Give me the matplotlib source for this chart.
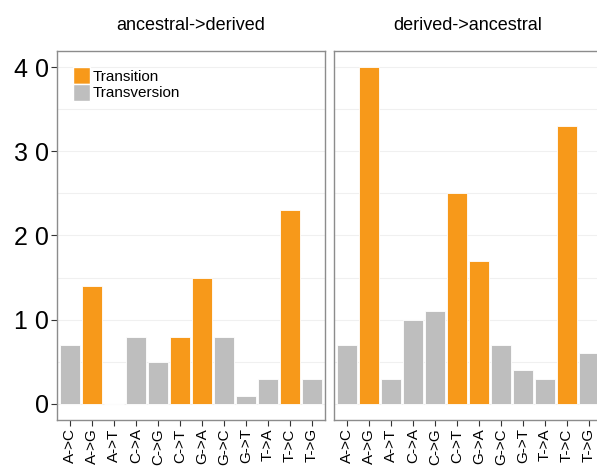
import numpy as np
import matplotlib
matplotlib.use('Agg')
import matplotlib.pyplot as plt
from matplotlib.patches import Patch
from matplotlib import font_manager

# ---- data ----
mutations = ['A->C', 'A->G', 'A->T', 'C->A', 'C->G', 'C->T',
             'G->A', 'G->C', 'G->T', 'T->A', 'T->C', 'T->G']
is_transition = [False, True, False, False, False, True,
                 True, False, False, False, True, False]
anc_to_der = [7, 14, 0, 8, 5, 8, 15, 8, 1, 3, 23, 3]
der_to_anc = [7, 40, 3, 10, 11, 25, 17, 7, 4, 3, 33, 6]
panel_titles = ['ancestral->derived', 'derived->ancestral']
yticks = [0, 10, 20, 30, 40]

ORANGE = '#F7991A'
GREY = '#BEBEBE'
FRAME = '#8C8C8C'

names = {f.name for f in font_manager.fontManager.ttflist}
narrow = 'Liberation Sans Narrow' if 'Liberation Sans Narrow' in names else 'Liberation Sans'

plt.rcParams['font.family'] = ['Liberation Sans', 'DejaVu Sans']

fig = plt.figure(figsize=(5.97, 4.66), dpi=100)
W, H = 597, 466
ax_l = fig.add_axes([57 / W, 1 - 420 / H, 268 / W, 369 / H])
ax_r = fig.add_axes([334 / W, 1 - 420 / H, 268 / W, 369 / H])

colors = [ORANGE if t else GREY for t in is_transition]
x = np.arange(1, len(mutations) + 1)

for ax, vals, title in zip([ax_l, ax_r], [anc_to_der, der_to_anc], panel_titles):
    ax.bar(x, vals, width=0.9, color=colors, edgecolor='white', linewidth=0.6, zorder=2)
    ax.set_xlim(0.4, 12.6)
    ax.set_ylim(-1.9, 41.9)
    ax.set_yticks(yticks)
    ax.set_yticks([5, 15, 25, 35], minor=True)
    ax.grid(True, which='both', axis='y', color='#F0F0F0', linewidth=0.8, zorder=0)
    ax.set_xticks(x)
    ax.set_xticklabels(mutations, rotation=90, family=narrow, fontsize=11)
    ax.tick_params(axis='x', length=4, color='#333333', pad=2)
    ax.tick_params(axis='y', which='minor', length=0)
    for s in ax.spines.values():
        s.set_color(FRAME)
        s.set_linewidth(1.0)
    ax.set_title(title, fontsize=13, pad=15)

# the original renders its digits widely spaced
ax_l.set_yticklabels([' '.join(str(v)) for v in yticks], fontsize=18)
ax_l.tick_params(axis='y', length=4, color='#333333', pad=2)
ax_r.tick_params(axis='y', length=0, labelleft=False)

handles = [Patch(facecolor=ORANGE, edgecolor='white', label='Transition'),
           Patch(facecolor=GREY, edgecolor='white', label='Transversion')]
ax_l.legend(handles=handles, loc='upper left', bbox_to_anchor=(0.02, 0.985),
            frameon=False, handlelength=1.1, handleheight=1.3,
            handletextpad=0.15, labelspacing=0.0, borderaxespad=0.3,
            prop={'family': narrow, 'size': 11})

fig.savefig('out.png', dpi=100, facecolor='white')
plt.close(fig)
